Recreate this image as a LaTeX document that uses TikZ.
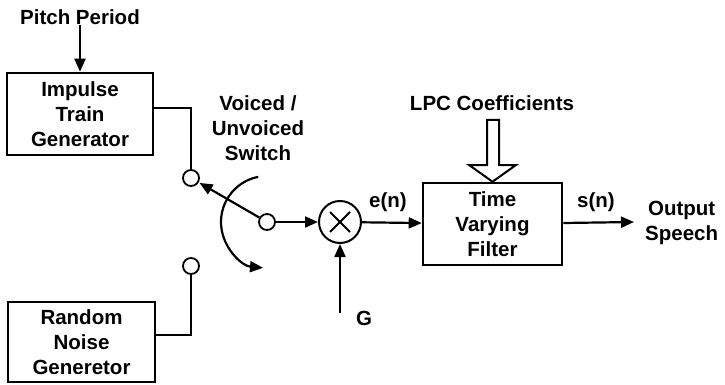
\documentclass[tikz,border=0pt]{standalone}
\usepackage{fontspec}
\setmainfont{Liberation Sans}
\usetikzlibrary{arrows.meta,calc}
\begin{document}
\begin{tikzpicture}[x=1pt,y=-1pt,
  every node/.style={font=\bfseries\fontsize{20.5}{25}\selectfont, inner sep=0pt, align=center},
  blk/.style={draw, line width=2.6pt, rectangle},
  contact/.style={draw, line width=1.8pt, circle, minimum size=16pt},
  wire/.style={line width=2.2pt},
  arr/.style={line width=2.2pt, -{Triangle[length=13pt,width=11pt]}}]
\useasboundingbox (0,0) rectangle (725,385);
% text labels
\node (pitch) at (80,17) {Pitch Period};
\node (sw) at (258,128) {Voiced /\\Unvoiced\\Switch};
\node (lpc) at (492,103) {LPC Coefficients};
\node (glab) at (364,318) {G};
\node (en) at (388,202) {e(n)};
\node (sn) at (596,202) {s(n)};
\node[anchor=west] (out) at (645,223) {Output\\Speech};
% blocks
\node[blk, minimum width=146pt, minimum height=82pt] (imp) at (80,114) {Impulse\\Train\\Generator};
\node[blk, minimum width=147pt, minimum height=80pt] (rng) at (81.5,342) {Random\\Noise\\Generetor};
\node[blk, minimum width=139pt, minimum height=82pt] (filt) at (492.5,224) {Time\\Varying\\Filter};
% switch contacts
\node[contact] (ctop) at (191,178) {};
\node[contact] (cbot) at (191,266) {};
\node[contact] (piv) at (267,222) {};
\node[draw, circle, line width=2pt, minimum size=42pt] (mult) at (340,222) {};
\draw[line width=2pt] ($(mult)+(-10,-10)$) -- ($(mult)+(10,10)$);
\draw[line width=2pt] ($(mult)+(-10,10)$) -- ($(mult)+(10,-10)$);
\coordinate (gstart) at (340,313);
\coordinate (oend) at (634,222);
% connectors
\draw[arr] (pitch) -- (imp);
\draw[wire] ([yshift=6pt]imp.east) -| (ctop.north);
\draw[wire] ([yshift=7pt]rng.east) -| (cbot.south);
\draw[arr, shorten >=1pt] (piv) -- (ctop);
\draw[arr] (piv) ++(259:46) arc[start angle=259, end angle=95, radius=46];
\draw[arr] (piv) -- (mult);
\draw[arr] (gstart) -- (mult);
\draw[arr] (mult) -- (filt);
\draw[arr] (filt) -- (oend);
% hollow arrow for LPC coefficients
\draw[line width=2pt, line join=miter] (487,120) -- (499,120) -- (499,165) -- (516,165) -- (filt.north) -- (469,165) -- (487,165) -- cycle;
\end{tikzpicture}
\end{document}
